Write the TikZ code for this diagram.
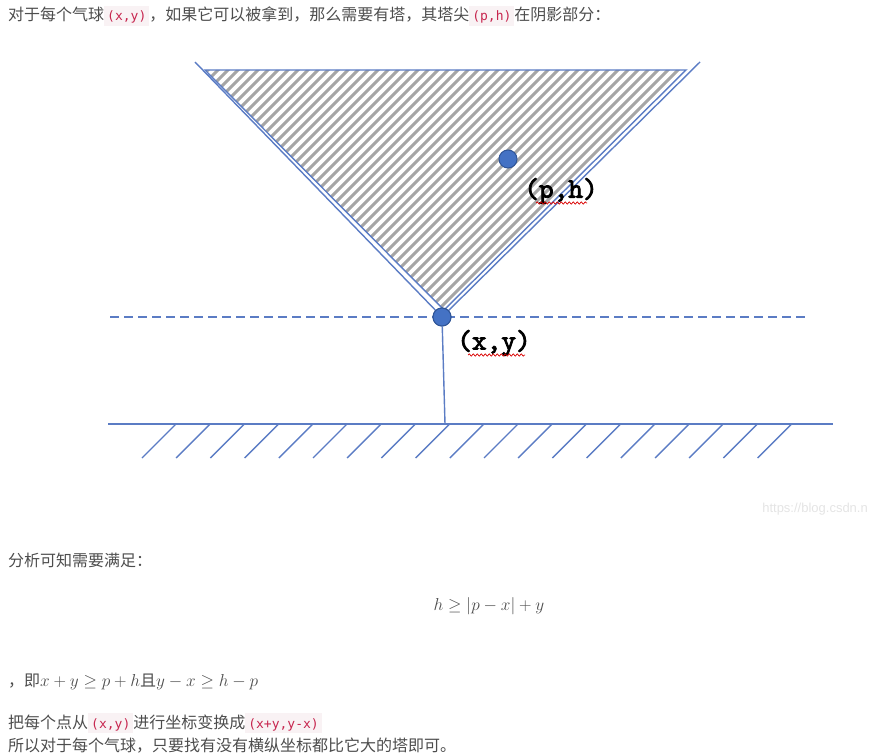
\documentclass[tikz,border=0pt]{standalone}
\usepackage{fontspec}
\setmainfont{Noto Sans CJK SC}
\setmonofont{DejaVu Sans Mono}
\newfontfamily\wmfont{Liberation Sans}
\newfontfamily\labfont{lmmono10-regular.otf}[FakeBold=3]
\usetikzlibrary{decorations.pathmorphing}
\definecolor{lineblue}{HTML}{5B7CC4}
\definecolor{dotblue}{HTML}{4472C4}
\definecolor{dotedge}{HTML}{2F5597}
\definecolor{hatchgray}{HTML}{A6A6A6}
\definecolor{txt}{HTML}{4D4D4D}
\definecolor{codefg}{HTML}{C7254E}
\definecolor{codebg}{HTML}{F9F2F4}
\definecolor{wm}{HTML}{E4E4E4}
\newcommand\mycode[1]{{\setlength\fboxsep{0pt}\colorbox{codebg}{\hspace{3pt}\rule[-5pt]{0pt}{20pt}\ttfamily\fontsize{13}{13}\selectfont\color{codefg}#1\hspace{3pt}}}}
\begin{document}
\begin{tikzpicture}[x=1pt,y=-1pt,
  blueline/.style={draw=lineblue,line width=1.4pt},
  dashline/.style={draw=lineblue,line width=1.4pt,dash pattern=on 9pt off 5pt},
  hatchline/.style={draw=hatchgray,line width=3pt},
  dot/.style={circle,fill=dotblue,draw=dotedge,line width=1pt,minimum size=18pt,inner sep=0pt},
  lab/.style={font=\labfont\fontsize{28}{28}\selectfont,text=black,inner sep=0pt},
  squig/.style={draw=red!85!black,line width=0.7pt,decorate,decoration={snake,amplitude=1.2pt,segment length=4pt}},
  para/.style={anchor=base west,inner sep=0pt,text=txt,font=\fontsize{16}{20}\selectfont},
  wmstyle/.style={anchor=base east,inner sep=0pt,text=wm,font=\wmfont\fontsize{13}{13}\selectfont}]
\useasboundingbox (0,0) rectangle (870,754);
\clip (0,0) rectangle (870,754);
% text at top
\node[para] (t1) at (8,21) {对于每个气球\mycode{(x,y)}，如果它可以被拿到，那么需要有塔，其塔尖\mycode{(p,h)}在阴影部分：};
% triangle
\coordinate (ta) at (205,70);
\coordinate (tb) at (686,70);
\coordinate (tc) at (444,310);
\begin{scope}
  \clip (ta) -- (tb) -- (tc) -- cycle;
  \foreach \k in {0,...,50} {
    \draw[hatchline] ({-62+10*\k},330) -- ++(280,-280);
  }
\end{scope}
\draw[blueline] (ta) -- (tb) -- (tc) -- cycle;
% V lines
\coordinate (vl) at (195,62);
\coordinate (vr) at (700,62);
\coordinate (dl) at (110,317);
\coordinate (dr) at (808,317);
\draw[dashline] (dl) -- (dr);
\node[dot] (xy) at (442,317) {};
\draw[blueline] (vl) -- (xy.center) -- (vr);
\node[dot] (xy2) at (442,317) {};
\node[dot] (ph) at (508,159) {};
% labels
\node[lab] (phl) at (561,191) {(p,h)};
\node[lab] (xyl) at (494,343) {(x,y)};
\coordinate (s1a) at (536,203);
\coordinate (s1b) at (587,203);
\coordinate (s2a) at (468,355);
\coordinate (s2b) at (525,355);
\draw[squig] (s1a) -- (s1b);
\draw[squig] (s2a) -- (s2b);
% ground
\coordinate (gt) at (445,424);
\coordinate (gl) at (108,424);
\coordinate (gr) at (833,424);
\draw[blueline] (xy2) -- (gt);
\draw[blueline] (gl) -- (gr);
\foreach \k in {0,...,18} {
  \draw[blueline] ({176+34.2*\k},424) -- ++(-34,34);
}
% watermark
\node[wmstyle] (wmk) at (868,512) {https://blog.csdn.n};
% lower text
\node[para] (t2) at (8,566) {分析可知需要满足：};
\node[inner sep=0pt,text=txt,font=\fontsize{18.5}{20}\selectfont] (f1) at (489,606) {$h \geq |p-x| + y$};
\node[para] (t3) at (8,686) {，即{\fontsize{18}{20}\selectfont$x+y\geq p+h$}且{\fontsize{18}{20}\selectfont$y-x\geq h-p$}};
\node[para] (t4) at (8,728) {把每个点从\mycode{(x,y)}进行坐标变换成\mycode{(x+y,y-x)}};
\node[para] (t5) at (8,751) {所以对于每个气球，只要找有没有横纵坐标都比它大的塔即可。};
\end{tikzpicture}
\end{document}
